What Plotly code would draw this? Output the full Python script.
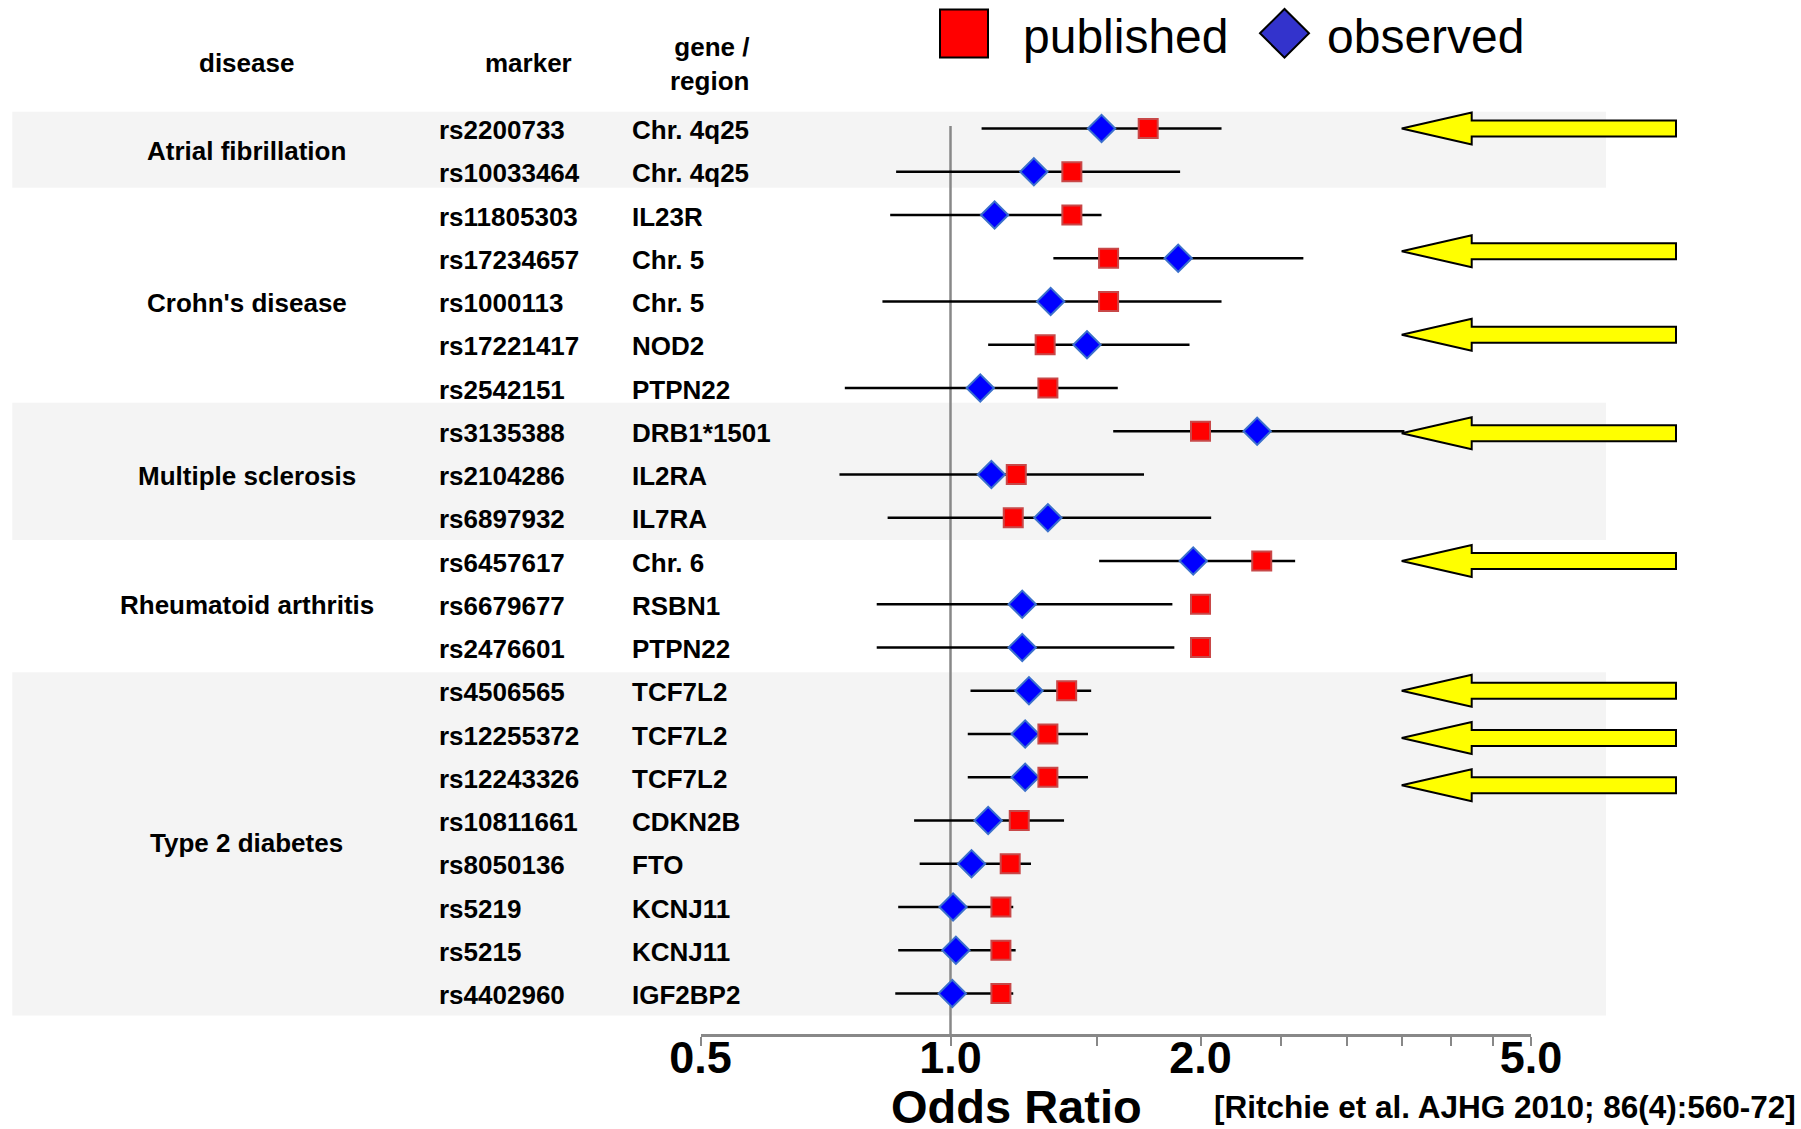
import math
import plotly.graph_objects as go

# ---------------- data ----------------
disease_groups = ["Atrial fibrillation", "Crohn's disease", "Multiple sclerosis",
                  "Rheumatoid arthritis", "Type 2 diabetes"]
group_sizes = [2, 5, 3, 3, 8]

markers = ["rs2200733", "rs10033464", "rs11805303", "rs17234657", "rs1000113",
           "rs17221417", "rs2542151", "rs3135388", "rs2104286", "rs6897932",
           "rs6457617", "rs6679677", "rs2476601", "rs4506565", "rs12255372",
           "rs12243326", "rs10811661", "rs8050136", "rs5219", "rs5215", "rs4402960"]
genes = ["Chr. 4q25", "Chr. 4q25", "IL23R", "Chr. 5", "Chr. 5", "NOD2", "PTPN22",
         "DRB1*1501", "IL2RA", "IL7RA", "Chr. 6", "RSBN1", "PTPN22", "TCF7L2",
         "TCF7L2", "TCF7L2", "CDKN2B", "FTO", "KCNJ11", "KCNJ11", "IGF2BP2"]
published = [1.73, 1.40, 1.40, 1.55, 1.55, 1.30, 1.31, 2.00, 1.20, 1.19, 2.37,
             2.00, 2.00, 1.38, 1.31, 1.31, 1.21, 1.18, 1.15, 1.15, 1.15]
observed = [1.52, 1.26, 1.13, 1.88, 1.32, 1.46, 1.086, 2.34, 1.12, 1.31, 1.96,
            1.22, 1.22, 1.243, 1.23, 1.23, 1.11, 1.06, 1.007, 1.015, 1.005]
ci_low = [1.09, 0.86, 0.846, 1.33, 0.828, 1.11, 0.746, 1.57, 0.735, 0.840, 1.51,
          0.815, 0.815, 1.057, 1.049, 1.049, 0.904, 0.918, 0.865, 0.865, 0.858]
ci_high = [2.12, 1.89, 1.52, 2.66, 2.12, 1.94, 1.59, 3.52, 1.71, 2.06, 2.60,
           1.85, 1.86, 1.477, 1.464, 1.464, 1.37, 1.25, 1.19, 1.198, 1.19]
arrow_rows = [1, 4, 6, 8, 11, 14, 15, 16]

tick_vals = [0.5, 1, 2, 5]
tick_text = ["0.5", "1.0", "2.0", "5.0"]
minor_vals = [1.5, 2.5, 3, 3.5, 4, 4.5]

# ---------------- layout helpers ----------------
W, H = 1801, 1129
FONT = "Liberation Sans, Arial, Helvetica, sans-serif"
ROW0_PX, ROW_PX = 128.5, 43.25


def px2row(py_):
    return 1 + (py_ - ROW0_PX) / ROW_PX


def px(xp):
    return xp / W


def py(yp):
    return 1 - yp / H


rows = list(range(1, len(markers) + 1))
y_top = px2row(0)
y_bot = px2row(H)

fig = go.Figure()

# reference line at OR = 1
fig.add_trace(go.Scatter(x=[1, 1], y=[px2row(126), px2row(1035)], mode="lines",
                         line=dict(color="#888888", width=2.5),
                         hoverinfo="skip", showlegend=False))

# confidence intervals
cx, cy = [], []
for r, lo, hi in zip(rows, ci_low, ci_high):
    cx += [lo, hi, None]
    cy += [r, r, None]
fig.add_trace(go.Scatter(x=cx, y=cy, mode="lines", line=dict(color="black", width=2.6),
                         hoverinfo="skip", showlegend=False))

fig.add_trace(go.Scatter(x=observed, y=rows, mode="markers", name="observed",
                         marker=dict(symbol="diamond", size=21, color="#0000FF",
                                     line=dict(color="#3B70CC", width=2)),
                         showlegend=False))
fig.add_trace(go.Scatter(x=published, y=rows, mode="markers", name="published",
                         marker=dict(symbol="square", size=19, color="#FF0000",
                                     line=dict(color="#C84848", width=2)),
                         showlegend=False))

shapes = []
# shaded bands (Atrial fib, MS, T2D)
bands_px = [(111.7, 187.7), (402.7, 540.0), (672.3, 1015.4)]
for t, b in bands_px:
    shapes.append(dict(type="rect", xref="paper", yref="y", x0=px(12.3), x1=px(1606),
                       y0=px2row(t), y1=px2row(b), fillcolor="#F4F4F4",
                       line=dict(width=0), layer="below"))

# yellow arrows
arrow_shift_px = [0, -7, -10, 2, 0, 0, 4, 8]
xt, xh, xe = px(1401.7), px(1471.7), px(1676)
hh, sh = 16 / ROW_PX, 8 / ROW_PX
for r, s in zip(arrow_rows, arrow_shift_px):
    yc = r + s / ROW_PX
    path = (f"M {xt},{yc} L {xh},{yc - hh} L {xh},{yc - sh} L {xe},{yc - sh} "
            f"L {xe},{yc + sh} L {xh},{yc + sh} L {xh},{yc + hh} Z")
    shapes.append(dict(type="path", xref="paper", yref="y", path=path,
                       fillcolor="#FFFF00", line=dict(color="black", width=2),
                       layer="above"))

# legend symbols
shapes.append(dict(type="rect", xref="paper", yref="paper", x0=px(940), x1=px(988),
                   y0=py(57.5), y1=py(9.5), fillcolor="#FF0000",
                   line=dict(color="black", width=2)))
dcx, dcy, dhw, dhh = 1284.5, 33.3, 24.5, 24.3
dpath = (f"M {px(dcx - dhw)},{py(dcy)} L {px(dcx)},{py(dcy - dhh)} "
         f"L {px(dcx + dhw)},{py(dcy)} L {px(dcx)},{py(dcy + dhh)} Z")
shapes.append(dict(type="path", xref="paper", yref="paper", path=dpath,
                   fillcolor="#3333CC", line=dict(color="black", width=2)))

annotations = []
bold26 = dict(family=FONT, size=26, color="black", weight="bold")

# headers
annotations.append(dict(text="disease", xref="paper", yref="paper", x=px(247), y=py(63.5),
                        xanchor="center", yanchor="middle", showarrow=False, font=bold26))
annotations.append(dict(text="marker", xref="paper", yref="paper", x=px(528), y=py(63.5),
                        xanchor="center", yanchor="middle", showarrow=False, font=bold26))
annotations.append(dict(text="gene /<br>region", xref="paper", yref="paper", x=px(751),
                        y=py(64), xanchor="right", yanchor="middle", align="right",
                        showarrow=False, font=bold26))

# disease labels
start = 1
for name, n in zip(disease_groups, group_sizes):
    mid = start + (n - 1) / 2
    annotations.append(dict(text=name, xref="paper", yref="y", x=px(247), y=mid,
                            xanchor="center", yanchor="middle", yshift=-1,
                            showarrow=False, font=bold26))
    start += n

# marker / gene labels
for r, m, g in zip(rows, markers, genes):
    annotations.append(dict(text=m, xref="paper", yref="y", x=px(436.5), y=r,
                            xanchor="left", yanchor="middle", yshift=-1.5,
                            showarrow=False, font=bold26))
    annotations.append(dict(text=g, xref="paper", yref="y", x=px(629.5), y=r,
                            xanchor="left", yanchor="middle", yshift=-1.5,
                            showarrow=False, font=bold26))

# legend texts
annotations.append(dict(text="published", xref="paper", yref="paper", x=px(1021),
                        y=py(36), xanchor="left", yanchor="middle", showarrow=False,
                        font=dict(family=FONT, size=48, color="black")))
annotations.append(dict(text="observed", xref="paper", yref="paper", x=px(1325),
                        y=py(36), xanchor="left", yanchor="middle", showarrow=False,
                        font=dict(family=FONT, size=48, color="black")))

# axis title and citation
annotations.append(dict(text="Odds Ratio", xref="paper", yref="paper", x=px(1016.5),
                        y=py(1106), xanchor="center", yanchor="middle", showarrow=False,
                        font=dict(family=FONT, size=47, color="black", weight="bold")))
annotations.append(dict(text="[Ritchie et al. AJHG 2010; 86(4):560-72]", xref="paper",
                        yref="paper", x=px(1798), y=py(1107), xanchor="right",
                        yanchor="middle", showarrow=False,
                        font=dict(family=FONT, size=31.5, color="black", weight="bold")))

fig.update_layout(
    width=W, height=H,
    margin=dict(l=0, r=0, t=0, b=0, pad=0, autoexpand=False),
    paper_bgcolor="white", plot_bgcolor="rgba(0,0,0,0)",
    showlegend=False,
    font=dict(family=FONT, color="black"),
    shapes=shapes, annotations=annotations,
    xaxis=dict(type="log", range=[math.log10(0.5), math.log10(5)],
               domain=[px(700.5), px(1531)], anchor="free", position=py(1035),
               automargin=False,
               showline=True, linecolor="#888888", linewidth=2.5,
               ticks="outside", ticklen=9, tickwidth=2, tickcolor="#888888",
               tickvals=tick_vals, ticktext=tick_text,
               tickfont=dict(family=FONT, size=45, color="black", weight="bold"),
               ticklabelstandoff=-27,
               minor=dict(tickvals=minor_vals, ticks="outside", ticklen=9,
                          tickwidth=2, tickcolor="#888888", showgrid=False),
               showgrid=False, zeroline=False, fixedrange=True),
    yaxis=dict(range=[y_bot, y_top], domain=[0, 1], visible=False, automargin=False,
               showgrid=False, zeroline=False, fixedrange=True),
)

fig.write_html("out.html", config={"displayModeBar": False},
               post_script="document.body.style.margin='0';document.body.style.overflow='hidden';")
